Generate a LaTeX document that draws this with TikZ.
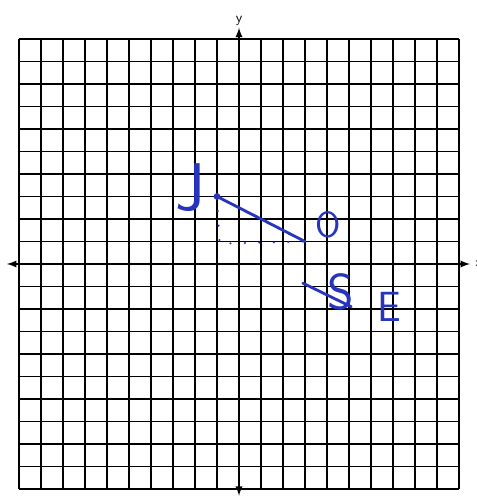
\documentclass[tikz,border=0pt]{standalone}
\usepackage{fontspec}
\definecolor{ink}{RGB}{38,52,190}
\begin{document}
\begin{tikzpicture}[x=0.55cm,y=0.5625cm,
  hand/.style={ink,line width=2pt,line cap=round},
  lbl/.style={text=ink,font=\sffamily,inner sep=0pt}]
\useasboundingbox (-10.864,-10.489) rectangle (10.773,11.733);
\fill[white] (-10.864,-10.489) rectangle (10.773,11.733);
% grid and axes
\draw[black,line width=0.85pt,step={(1,1)}] (-10,-10) grid (10,10);
\coordinate (xl) at (-10.55,0); \coordinate (xr) at (10.5,0);
\coordinate (yb) at (0,-10.3); \coordinate (yt) at (0,10.5);
\draw[<->,>=latex,line width=1.3pt] (xl)--(xr) node[right,font=\sffamily\small]{x};
\draw[<->,>=latex,line width=1.3pt] (yb)--(yt) node[above,font=\sffamily,inner sep=1pt]{y};
% segment JO with its helper path
\coordinate (J) at (-1,3); \coordinate (O) at (3,1); \coordinate (Jc) at (-0.88,0.9);
\draw[ink,line width=1.4pt,line cap=round,dash pattern=on 0.3pt off 10pt] (J)--(Jc)--(O);
\draw[hand] (J)--(O);
\fill[ink] (J) circle (2.4pt);
\node[lbl,font=\sffamily\fontsize{48}{48}\selectfont] (Jlab) at (-2.2,3.4) {J};
\node[lbl,font=\sffamily\fontsize{26}{26}\selectfont] (Olab) at (4.05,1.72) {O};
% segment SE
\coordinate (S) at (2.9,-0.85); \coordinate (E) at (5.1,-1.9);
\draw[hand] (S)--(E);
\node[lbl,font=\sffamily\fontsize{36}{36}\selectfont] (Slab) at (4.6,-1.25) {S};
\node[lbl,font=\sffamily\fontsize{30}{30}\selectfont] (Elab) at (6.85,-1.9) {E};
\end{tikzpicture}
\end{document}
